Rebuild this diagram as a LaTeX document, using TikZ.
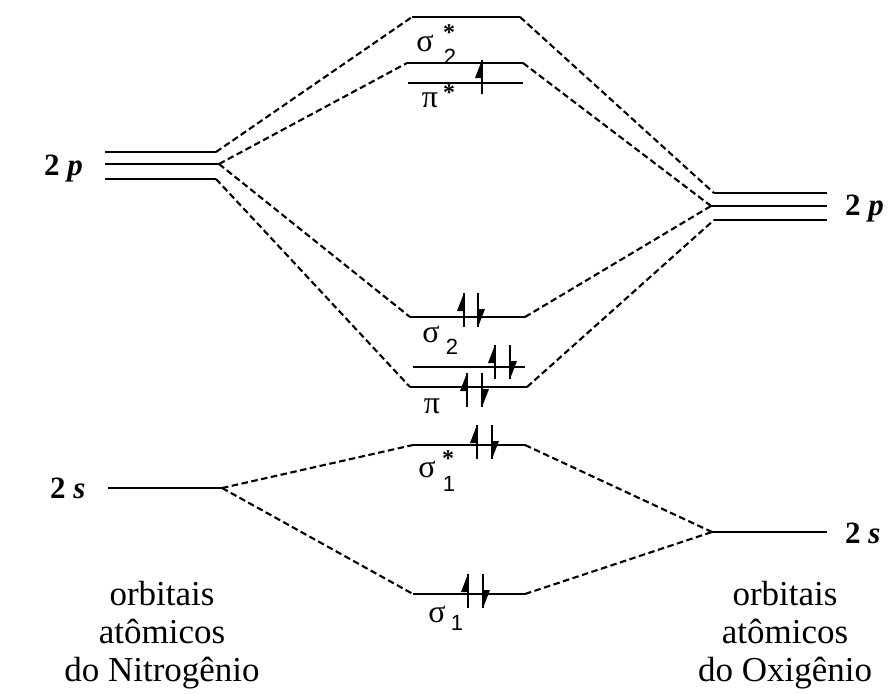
\documentclass[tikz,border=0pt]{standalone}
\usepackage{fontspec}
\setmainfont{Liberation Serif}
\newfontfamily\sansf{Liberation Sans}
\begin{document}
\begin{tikzpicture}[x=1pt,y=-1pt,
  level/.style={line width=2.2pt},
  conn/.style={line width=2.1pt, dash pattern=on 6.5pt off 3.5pt},
  aolbl/.style={font=\fontsize{31}{33}\selectfont\bfseries, anchor=base west, inner sep=0pt},
  bot/.style={font=\fontsize{35}{38}\selectfont, align=center, anchor=base, inner sep=0pt},
  greek/.style={font=\fontsize{32}{34}\selectfont, inner sep=0pt},
  subl/.style={font=\sansf\fontsize{22}{24}\selectfont, inner sep=0pt},
  star/.style={font=\fontsize{24}{24}\selectfont\bfseries, inner sep=0pt},
  upe/.pic={\draw[line width=2pt] (0,17)--(0,-17); \fill (0,-17)--(-7,1)--(0,1)--cycle;},
  dne/.pic={\draw[line width=2pt] (0,-17)--(0,17); \fill (0,17)--(7,-1)--(0,-1)--cycle;}
]
\useasboundingbox (0,0) rectangle (890,693);

% ---- atomic levels, left (N)
\coordinate (Lp1a) at (105,152); \coordinate (Lp1b) at (216,152);
\coordinate (Lp2a) at (105,164); \coordinate (Lp2b) at (219,164);
\coordinate (Lp3a) at (105,179); \coordinate (Lp3b) at (216,179);
\coordinate (Lsa) at (108,488);  \coordinate (Lsb) at (222,488);
% ---- atomic levels, right (O)
\coordinate (Rp1a) at (714,193); \coordinate (Rp1b) at (827,193);
\coordinate (Rp2a) at (711,206); \coordinate (Rp2b) at (827,206);
\coordinate (Rp3a) at (714,220); \coordinate (Rp3b) at (827,220);
\coordinate (Rsa) at (712,532);  \coordinate (Rsb) at (827,532);
% ---- molecular levels
\coordinate (s2sL) at (412,17);  \coordinate (s2sR) at (520,17);
\coordinate (psL) at (407,63);   \coordinate (psR) at (523,63);
\coordinate (ps2L) at (408,83);  \coordinate (ps2R) at (523,83);
\coordinate (s2L) at (410,317);  \coordinate (s2R) at (525,317);
\coordinate (pUL) at (413,367);  \coordinate (pUR) at (525,367);
\coordinate (pL) at (410,387);   \coordinate (pR) at (527,387);
\coordinate (s1sL) at (413,445); \coordinate (s1sR) at (525,445);
\coordinate (s1L) at (413,594);  \coordinate (s1R) at (525,594);

\foreach \a/\b in {Lp1a/Lp1b,Lp2a/Lp2b,Lp3a/Lp3b,Lsa/Lsb,Rp1a/Rp1b,Rp2a/Rp2b,Rp3a/Rp3b,Rsa/Rsb,
  s2sL/s2sR,psL/psR,ps2L/ps2R,s2L/s2R,pUL/pUR,pL/pR,s1sL/s1sR,s1L/s1R}
  \draw[level] (\a) -- (\b);

% ---- dashed correlation lines
\draw[conn] (Lp1b) -- (s2sL);
\draw[conn] (Lp2b) -- (psL);
\draw[conn] (Lp2b) -- (s2L);
\draw[conn] (Lp3b) -- (pL);
\draw[conn] (s2sR) -- (Rp1a);
\draw[conn] (psR) -- (Rp2a);
\draw[conn] (s2R) -- (Rp2a);
\draw[conn] (pR) -- (Rp3a);
\draw[conn] (Lsb) -- (s1sL);
\draw[conn] (Lsb) -- (s1L);
\draw[conn] (s1sR) -- (Rsa);
\draw[conn] (s1R) -- (Rsa);

% ---- electrons
\pic at (482,77) {upe};
\pic at (464,310) {upe}; \pic at (478,310) {dne};
\pic at (495,362) {upe}; \pic at (510,362) {dne};
\pic at (467,390) {upe}; \pic at (482,390) {dne};
\pic at (477,442) {upe}; \pic at (492,442) {dne};
\pic at (468,591) {upe}; \pic at (483,591) {dne};

% ---- MO labels
\node[greek] (l1) at (425,43) {σ};  \node[subl] (l1s) at (450,57) {2}; \node[star] (l1a) at (449,33) {*};
\node[greek] (l2) at (430,100) {π}; \node[star] (l2a) at (449,93) {*};
\node[greek] (l3) at (431,334) {σ}; \node[subl] (l3s) at (452,347) {2};
\node[greek] (l4) at (432,406) {π};
\node[greek] (l5) at (427,469) {σ}; \node[subl] (l5s) at (449,484) {1}; \node[star] (l5a) at (448,459) {*};
\node[greek] (l6) at (437,614) {σ}; \node[subl] (l6s) at (457,623) {1};

% ---- AO labels
\node[aolbl] (lp) at (44,175) {2 \textit{p}};
\node[aolbl] (ls) at (50,498) {2 \textit{s}};
\node[aolbl] (rp) at (845,215) {2 \textit{p}};
\node[aolbl] (rs) at (845,543) {2 \textit{s}};

\node[bot] (bn) at (162,681) {orbitais\\atômicos\\do Nitrogênio};
\node[bot] (bo) at (785,681) {orbitais\\atômicos\\do Oxigênio};
\end{tikzpicture}
\end{document}
